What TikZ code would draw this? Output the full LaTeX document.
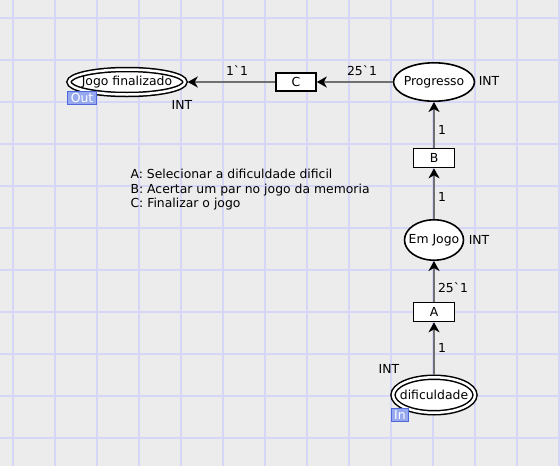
\documentclass[tikz,border=0pt]{standalone}
\usepackage{fontspec}
\setmainfont{DejaVu Sans}[Ligatures=TeXOff]
\usetikzlibrary{arrows.meta}
\usetikzlibrary{shapes.geometric}
\usetikzlibrary{positioning}
\definecolor{bg}{RGB}{236,236,236}
\definecolor{gl}{RGB}{214,214,246}
\definecolor{arcc}{RGB}{112,112,112}
\definecolor{tagf}{RGB}{150,168,238}
\definecolor{tagd}{RGB}{80,104,220}

\begin{document}
\begin{tikzpicture} [
    x=1pt, y=-1pt,
    font=\fontsize{12.4}{15}\selectfont,
    pl/.style={
        ellipse, draw, fill=white,
        line width=1.6pt, inner sep=0pt
    },
    pd/.style={
        pl, double, double distance=2.5pt,
        line width=1.5pt, outer sep=2.75pt
    },
    tr/.style={
        draw, fill=white, line width=1.6pt,
        minimum width=40pt, minimum height=18pt, inner sep=0pt
    },
    a/.style={
        draw=arcc, line width=2pt,
        -{Stealth[length=10pt,width=11pt,inset=3pt,color=black]}
    },
    lb/.style={inner sep=1pt},
    tag/.style={
        draw=tagd, fill=tagf, text=white,
        line width=1pt, inner xsep=3pt, inner ysep=1.5pt
    },
    gridline/.style={draw=gl, line width=1.6pt}
]

\fill [bg] (0,0) rectangle (560,466);
\useasboundingbox (0,0) rectangle (560,466);

\foreach \x in {13,55,...,559}
    \draw [gridline] (\x,0) -- (\x,466);
\foreach \y in {18,60,...,438}
    \draw [gridline] (0,\y) -- (560,\y);

% places
\node [pd,minimum width=116pt,minimum height=25pt] (fin) at (127,82)
    {\makebox[0pt]{Jogo finalizado}};
\node [pl,minimum width=81pt,minimum height=38.4pt] (prog) at (434,82)
    {\makebox[0pt]{Progresso}};
\node [pl,minimum width=59pt,minimum height=40.4pt] (emjogo) at (434,240)
    {\makebox[0pt]{Em Jogo}};
\node [pd,minimum width=82pt,minimum height=35.5pt] (dif) at (434,395)
    {\makebox[0pt]{dificuldade}};

% transitions
\node [tr] (tc) at (296,82)  {C};
\node [tr,minimum width=41pt,minimum height=19pt] (tb) at (434,158) {B};
\node [tr,minimum width=41pt,minimum height=19pt] (ta) at (434,312) {A};

% arcs
\draw [a] (tc) -- (fin);
\draw [a] (prog) -- (tc);
\draw [a] (tb) -- (prog);
\draw [a] (emjogo) -- (tb);
\draw [a] (ta) -- (emjogo);
\draw [a] (dif) -- (ta);

% inscriptions
\node [lb] (l1) at (237,71)  {1`1};
\node [lb] (l2) at (362,71)  {25`1};
\node [lb] (l3) at (442,130) {1};
\node [lb] (l4) at (442,197) {1};
\node [lb] (l5) at (453,288) {25`1};
\node [lb] (l6) at (442,348) {1};

% colour sets
\node [lb] (cs1) at (182,105) {INT};
\node [lb] (cs2) at (489,81)  {INT};
\node [lb] (cs3) at (479,240) {INT};
\node [lb] (cs4) at (389,369) {INT};

% port tags
\node [tag] (out) at (82,98)   {Out};
\node [tag] (in)  at (400,415) {In};

\node [align=left,anchor=west,font=\fontsize{12.4}{14.5}\selectfont] (legend) at (127,190)
    {A: Selecionar a dificuldade dificil\\
     B: Acertar um par no jogo da memoria\\
     C: Finalizar o jogo};

\end{tikzpicture}
\end{document}
